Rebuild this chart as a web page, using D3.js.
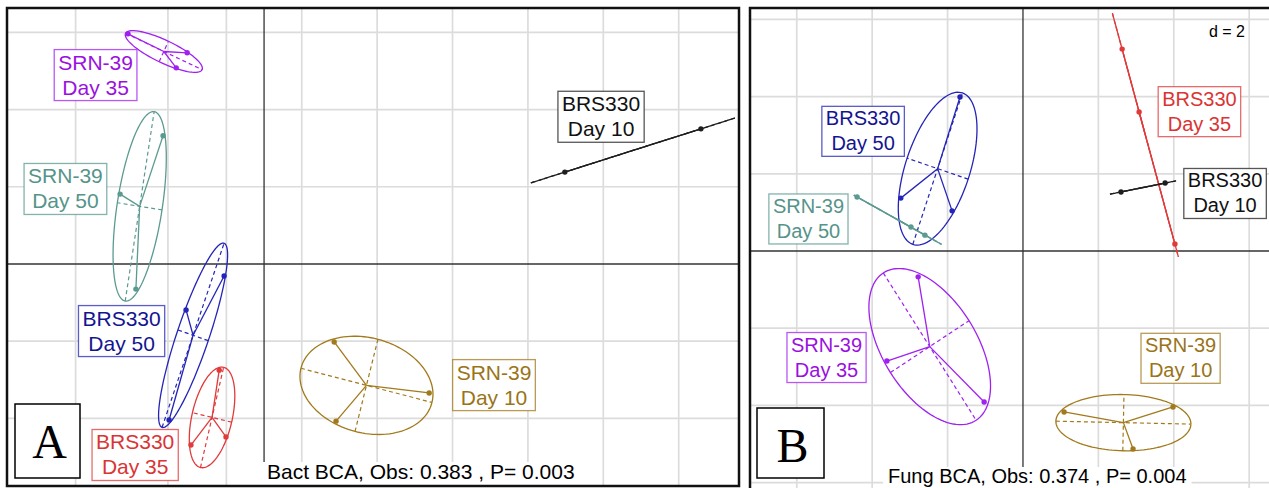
<!DOCTYPE html>
<html>
<head>
<meta charset="utf-8">
<script src="https://d3js.org/d3.v7.min.js"></script>
<style>
body { margin: 0; background: #fff; }
svg { display: block; font-family: "Liberation Sans", Arial, Helvetica, sans-serif; }
</style>
</head>
<body>
<svg id="chart" width="1269" height="488"></svg>
<script>
// panel A - bacteria BCA scores (axis units, d = 2 per grid cell)
var bactGroups = ['SRN-39 Day 35', 'SRN-39 Day 50', 'BRS330 Day 50', 'BRS330 Day 35', 'SRN-39 Day 10', 'BRS330 Day 10'];
var bactScores = [
	[[-3.61, 5.96], [-2.04, 5.47], [-2.33, 5.08]],
	[[-2.68, 3.32], [-3.82, 1.81], [-3.40, -0.65]],
	[[-1.06, -0.31], [-2.07, -1.19], [-2.52, -4.04]],
	[[-1.19, -2.75], [-1.94, -4.69], [-1.01, -4.48]],
	[[1.86, -2.02], [1.91, -4.07], [4.38, -3.34]],
	[[7.98, 2.38], [11.59, 3.50]]
];
var bactLabelAt = [[-4.47, 4.88], [-5.27, 1.93], [-3.78, -1.75], [-3.42, -4.96], [6.10, -3.15], [8.94, 3.80]];
var bactGridX = [-5, -2.55, -1, 1, 3, 5, 7, 9, 11];
var bactGridY = [-4, -2, 2, 4, 6];
var bactSub = 'Bact BCA, Obs: 0.383 , P= 0.003';

// panel B - fungi BCA scores
var fungGroups = ['BRS330 Day 50', 'SRN-39 Day 50', 'BRS330 Day 35', 'BRS330 Day 10', 'SRN-39 Day 35', 'SRN-39 Day 10'];
var fungScores = [
	[[-1.67, 3.99], [-3.24, 1.37], [-1.88, 1.04]],
	[[-4.40, 1.40], [-2.97, 0.62], [-2.60, 0.41]],
	[[2.63, 5.23], [3.08, 3.60], [4.03, 0.18]],
	[[2.60, 1.53], [3.77, 1.76]],
	[[-2.78, -0.67], [-3.61, -2.85], [-1.03, -3.91]],
	[[1.09, -4.17], [3.98, -4.04], [2.92, -5.13]]
];
var fungLabelAt = [[-4.24, 3.10], [-5.69, 0.83], [4.68, 3.61], [5.36, 1.49], [-5.21, -2.76], [4.18, -2.78]];
var fungGridX = [-6, -4, -2, 2, 4, 6];
var fungGridY = [-6, -4, -2, 2, 4, 6];
var fungSub = 'Fung BCA, Obs: 0.374 , P= 0.004';

var groupColor = {
	'SRN-39 Day 35': '#A020F0',
	'SRN-39 Day 50': '#5B9A90',
	'BRS330 Day 50': '#2424B8',
	'BRS330 Day 35': '#E03A3A',
	'SRN-39 Day 10': '#A27A1C',
	'BRS330 Day 10': '#1E1E1E'
};
//label text is a touch darker than the lines
var textColor = {
	'SRN-39 Day 35': '#9A10E0',
	'SRN-39 Day 50': '#55948A',
	'BRS330 Day 50': '#141490',
	'BRS330 Day 35': '#DA3434',
	'SRN-39 Day 10': '#9A7418',
	'BRS330 Day 10': '#111111'
};

var svg = d3.select('#chart');

//class ellipse like ade4 s.class: mean, 1/n covariance, cellipse = 1.5
function ellipseOf(pts) {
	var n = pts.length;
	var mx = d3.mean(pts, function(d) { return d[0]; });
	var my = d3.mean(pts, function(d) { return d[1]; });
	var sxx = 0, syy = 0, sxy = 0;
	pts.forEach(function(d) {
		var dx = d[0] - mx, dy = d[1] - my;
		sxx += dx * dx / n; syy += dy * dy / n; sxy += dx * dy / n;
	});
	var tr = (sxx + syy) / 2;
	var dd = Math.sqrt((sxx - syy) * (sxx - syy) / 4 + sxy * sxy);
	var th = 0.5 * Math.atan2(2 * sxy, sxx - syy);
	return {cx: mx, cy: my, a: 1.5 * Math.sqrt(tr + dd), b: 1.5 * Math.sqrt(Math.max(tr - dd, 0)),
		c: Math.cos(th), s: Math.sin(th)};
}

function drawPanel(p) {
	var x = d3.scaleLinear().domain(p.xDomain).range(p.xRange);
	var y = d3.scaleLinear().domain(p.yDomain).range(p.yRange);
	var f = p.frame;

	svg.append('clipPath').attr('id', 'clip' + p.id)
		.append('rect').attr('x', f[0]).attr('y', f[1]).attr('width', f[2] - f[0]).attr('height', f[3] - f[1]);
	var g = svg.append('g').attr('clip-path', 'url(#clip' + p.id + ')');
	g.append('rect').attr('x', f[0]).attr('y', f[1]).attr('width', f[2] - f[0]).attr('height', f[3] - f[1]).attr('fill', '#fff');

	//grid
	g.selectAll('line.gx').data(p.gridX).enter().append('line').attr('class', 'gx')
		.attr('x1', function(d) { return x(d); }).attr('x2', function(d) { return x(d); })
		.attr('y1', f[1]).attr('y2', f[3]).attr('stroke', '#dcdcdc').attr('stroke-width', 1.7);
	g.selectAll('line.gy').data(p.gridY).enter().append('line').attr('class', 'gy')
		.attr('y1', function(d) { return y(d); }).attr('y2', function(d) { return y(d); })
		.attr('x1', f[0]).attr('x2', f[2]).attr('stroke', '#dcdcdc').attr('stroke-width', 1.7);
	//axes through origin
	g.append('line').attr('x1', x(0)).attr('x2', x(0)).attr('y1', f[1]).attr('y2', f[3]).attr('stroke', '#333').attr('stroke-width', 1.3);
	g.append('line').attr('y1', y(0)).attr('y2', y(0)).attr('x1', f[0]).attr('x2', f[2]).attr('stroke', '#333').attr('stroke-width', 1.3);

	var line = d3.line().x(function(d) { return x(d[0]); }).y(function(d) { return y(d[1]); });

	p.groups.forEach(function(name, i) {
		var pts = p.scores[i];
		var col = groupColor[name];
		var e = ellipseOf(pts);
		var ring = d3.range(0, 121).map(function(k) {
			var t = k / 120 * 2 * Math.PI;
			var u = e.a * Math.cos(t), v = e.b * Math.sin(t);
			return [e.cx + u * e.c - v * e.s, e.cy + u * e.s + v * e.c];
		});
		var gg = g.append('g');
		gg.append('path').datum(ring).attr('d', line).attr('fill', 'none').attr('stroke', col).attr('stroke-width', 1.3);
		//ellipse axes, dashed
		[[e.a * e.c, e.a * e.s], [-e.b * e.s, e.b * e.c]].forEach(function(ax) {
			gg.append('path').datum([[e.cx - ax[0], e.cy - ax[1]], [e.cx + ax[0], e.cy + ax[1]]])
				.attr('d', line).attr('fill', 'none').attr('stroke', col).attr('stroke-width', 1.2).attr('stroke-dasharray', '4,3');
		});
		//star from centroid
		pts.forEach(function(pt) {
			gg.append('path').datum([[e.cx, e.cy], pt]).attr('d', line).attr('fill', 'none').attr('stroke', col).attr('stroke-width', 1.3);
		});
		gg.selectAll('circle').data(pts).enter().append('circle')
			.attr('cx', function(d) { return x(d[0]); }).attr('cy', function(d) { return y(d[1]); })
			.attr('r', 2.7).attr('fill', col);
	});

	//group labels in boxes
	p.groups.forEach(function(name, i) {
		var col = groupColor[name];
		var parts = name.split(' ');
		var lg = g.append('g').attr('transform', 'translate(' + x(p.labelAt[i][0]) + ',' + y(p.labelAt[i][1]) + ')');
		var t = lg.append('text').attr('text-anchor', 'middle').attr('fill', textColor[name]).style('font-size', p.labelSize + 'px');
		t.append('tspan').attr('x', 0).attr('y', -6).text(parts[0]);
		t.append('tspan').attr('x', 0).attr('y', 19).text(parts.slice(1).join(' '));
		var bb = t.node().getBBox();
		lg.insert('rect', 'text').attr('x', bb.x - 4).attr('y', bb.y - 1).attr('width', bb.width + 8).attr('height', bb.height + 3)
			.attr('fill', '#fff').attr('stroke', col).attr('stroke-opacity', 0.75).attr('stroke-width', 1.3);
	});

	//sub title with white background
	var st = g.append('text').attr('x', p.sub[1]).attr('y', p.sub[2]).attr('fill', '#000')
		.style('font-size', p.sub[3] + 'px').text(p.sub[0]);
	var sb = st.node().getBBox();
	g.insert('rect', function() { return st.node(); }).attr('x', sb.x - 5).attr('y', sb.y + 2).attr('width', sb.width + 10).attr('height', 40).attr('fill', '#fff');

	if (p.dLabel) {
		var dt = g.append('text').attr('x', p.dLabel[1]).attr('y', p.dLabel[2]).attr('text-anchor', 'middle')
			.style('font-size', '16px').attr('fill', '#000').text(p.dLabel[0]);
		var db = dt.node().getBBox();
		g.insert('rect', function() { return dt.node(); }).attr('x', db.x - 2).attr('y', db.y).attr('width', db.width + 4).attr('height', db.height).attr('fill', '#fff');
	}

	//panel letter
	var lb = p.letterBox;
	g.append('rect').attr('x', lb[0]).attr('y', lb[1]).attr('width', lb[2]).attr('height', lb[3])
		.attr('fill', '#fff').attr('stroke', '#000').attr('stroke-width', 1.5);
	g.append('text').attr('x', lb[0] + lb[2] / 2 + 2).attr('y', lb[4]).attr('text-anchor', 'middle')
		.style('font-family', '"Liberation Serif", "Times New Roman", serif').style('font-size', '48px').attr('fill', '#000').text(p.letter);

	//frame
	svg.append('rect').attr('x', f[0]).attr('y', f[1]).attr('width', f[2] - f[0]).attr('height', f[3] - f[1])
		.attr('fill', 'none').attr('stroke', '#111').attr('stroke-width', 2.5);
}

drawPanel({
	id: 'A', groups: bactGroups, scores: bactScores, labelAt: bactLabelAt, gridX: bactGridX, gridY: bactGridY,
	xDomain: [-6.82, 12.6], xRange: [7, 739], yDomain: [-5.75, 6.63], yRange: [486, 8],
	frame: [7, 8, 739, 486], labelSize: 21,
	sub: [bactSub, 267, 479, 21], letter: 'A', letterBox: [15, 404, 65, 74, 458]
});
drawPanel({
	id: 'B', groups: fungGroups, scores: fungScores, labelAt: fungLabelAt, gridX: fungGridX, gridY: fungGridY,
	xDomain: [-7.24, 7], xRange: [750, 1286.9], yDomain: [-6.5, 6.5], yRange: [501.9, 0.1],
	frame: [750, 8, 1310, 520], labelSize: 20,
	sub: [fungSub, 888, 483, 20], dLabel: ['d = 2', 1227, 37], letter: 'B', letterBox: [757, 408, 67, 70, 462]
});
</script>
</body>
</html>
